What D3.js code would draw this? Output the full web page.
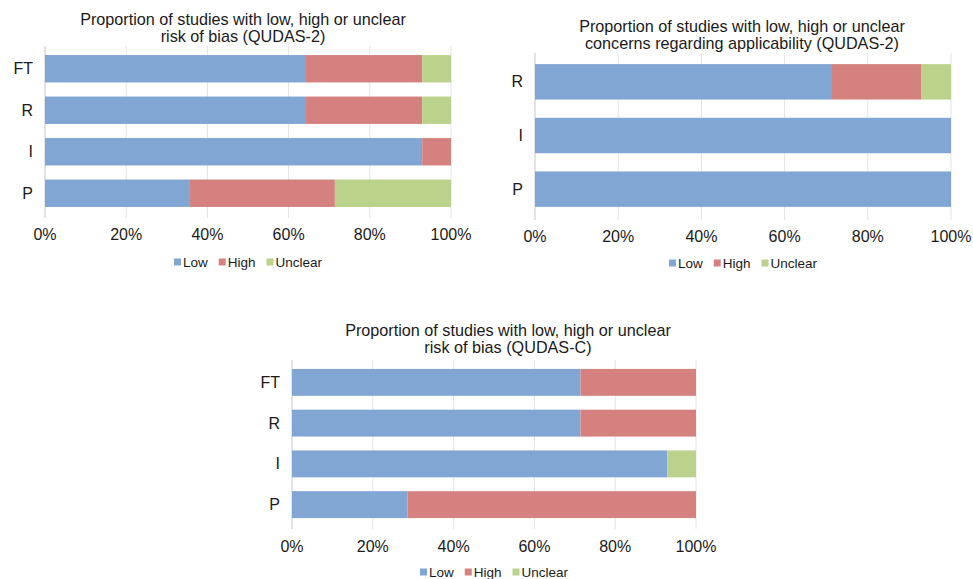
<!DOCTYPE html>
<html>
<head>
<meta charset="utf-8">
<script src="https://cdn.jsdelivr.net/npm/d3@7"></script>
<style>
  html, body { margin: 0; padding: 0; background: #fff; }
  svg { display: block; font-family: "Liberation Sans", Arial, Helvetica, sans-serif; }
</style>
</head>
<body>
<svg id="chart" width="973" height="579"></svg>
<script>
// Series and tick definitions
const seriesKeys = ["Low", "High", "Unclear"];
const seriesColors = ["#81a6d3", "#d58180", "#bbd28c"];
const tickValues = [0, 0.2, 0.4, 0.6, 0.8, 1.0];

// QUDAS-2 risk of bias (percent of studies)
const rob2Categories = ["FT", "R", "I", "P"];
const rob2Low     = [64.3, 64.3, 92.9, 35.7];
const rob2High    = [28.6, 28.6, 7.1, 35.7];
const rob2Unclear = [7.1, 7.1, 0, 28.6];

// QUDAS-2 applicability concerns
const app2Categories = ["R", "I", "P"];
const app2Low     = [71.4, 100, 100];
const app2High    = [21.4, 0, 0];
const app2Unclear = [7.2, 0, 0];

// QUDAS-C risk of bias
const robCCategories = ["FT", "R", "I", "P"];
const robCLow     = [71.4, 71.4, 92.9, 28.6];
const robCHigh    = [28.6, 28.6, 0, 71.4];
const robCUnclear = [0, 0, 7.1, 0];

const svg = d3.select("#chart");

function panel(cfg) {
  const { categories, low, high, unclear, x0, x1, yTop, yBottom, titleLines, titleX, titleY, tickY, legendY, pad } = cfg;
  const rows = categories.map((c, i) => ({ cat: c, Low: low[i] / 100, High: high[i] / 100, Unclear: unclear[i] / 100 }));
  const stacked = d3.stack().keys(seriesKeys)(rows);

  const x = d3.scaleLinear().domain([0, 1]).range([x0, x1]);
  const y = d3.scaleBand().domain(categories).range([yTop, yBottom]).paddingInner(pad).paddingOuter(pad / 2);

  const g = svg.append("g");

  // vertical gridlines
  const gridTop = yTop - 2, gridBottom = yBottom + 4;
  g.selectAll("line.grid").data(tickValues).join("line")
    .attr("x1", d => x(d)).attr("x2", d => x(d))
    .attr("y1", gridTop).attr("y2", gridBottom)
    .attr("stroke", d => d === 0 ? "#c8c8c8" : "#e4e4e4")
    .attr("stroke-width", 1);

  // stacked bars
  g.selectAll("g.series").data(stacked).join("g")
    .attr("fill", (d, i) => seriesColors[i])
    .selectAll("rect").data(d => d.map(v => ({ v, cat: v.data.cat }))).join("rect")
    .attr("x", d => x(d.v[0]))
    .attr("width", d => Math.max(0, x(d.v[1]) - x(d.v[0])))
    .attr("y", d => y(d.cat))
    .attr("height", y.bandwidth());

  // category labels
  g.selectAll("text.cat").data(categories).join("text")
    .attr("x", x0 - 12).attr("y", d => y(d) + y.bandwidth() / 2)
    .attr("text-anchor", "end").attr("dominant-baseline", "central")
    .attr("font-size", 16).attr("fill", "#1a1a1a")
    .text(d => d);

  // x tick labels
  const fmt = d3.format(".0%");
  g.selectAll("text.tick").data(tickValues).join("text")
    .attr("x", d => x(d)).attr("y", tickY)
    .attr("text-anchor", "middle").attr("dominant-baseline", "central")
    .attr("font-size", 16).attr("fill", "#1a1a1a")
    .text(d => fmt(d));

  // title
  g.selectAll("text.title").data(titleLines).join("text")
    .attr("x", titleX).attr("y", (d, i) => titleY + i * 17)
    .attr("text-anchor", "middle").attr("dominant-baseline", "central")
    .attr("font-size", 16.2).attr("fill", "#1a1a1a")
    .text(d => d);

  // legend: square, label, then gap to next item; centred under the plot
  const sq = 7, textGap = 2, itemGap = 11;
  const lg = g.append("g");
  const items = seriesKeys.map((k, i) => {
    const t = lg.append("text").attr("y", legendY)
      .attr("dominant-baseline", "central").attr("font-size", 13.5).attr("fill", "#1a1a1a")
      .text(k);
    const r = lg.append("rect").attr("y", legendY - sq / 2).attr("width", sq).attr("height", sq)
      .attr("fill", seriesColors[i]);
    return { t, r, w: t.node().getComputedTextLength() };
  });
  const total = d3.sum(items, d => sq + textGap + d.w) + itemGap * (items.length - 1);
  let lx = (x0 + x1) / 2 - total / 2;
  items.forEach(it => {
    it.r.attr("x", lx);
    it.t.attr("x", lx + sq + textGap);
    lx += sq + textGap + it.w + itemGap;
  });
}

panel({
  categories: rob2Categories, low: rob2Low, high: rob2High, unclear: rob2Unclear,
  x0: 45, x1: 451, yTop: 48, yBottom: 214, pad: 0.34,
  titleLines: ["Proportion of studies with low, high or unclear", "risk of bias (QUDAS-2)"],
  titleX: 243, titleY: 19, tickY: 234, legendY: 262
});

panel({
  categories: app2Categories, low: app2Low, high: app2High, unclear: app2Unclear,
  x0: 535, x1: 951, yTop: 55, yBottom: 216, pad: 0.34,
  titleLines: ["Proportion of studies with low, high or unclear", "concerns regarding applicability (QUDAS-2)"],
  titleX: 742, titleY: 26, tickY: 236, legendY: 263
});

panel({
  categories: robCCategories, low: robCLow, high: robCHigh, unclear: robCUnclear,
  x0: 292, x1: 696, yTop: 362, yBottom: 525, pad: 0.34,
  titleLines: ["Proportion of studies with low, high or unclear", "risk of bias (QUDAS-C)"],
  titleX: 508, titleY: 330, tickY: 546, legendY: 572
});
</script>
</body>
</html>
